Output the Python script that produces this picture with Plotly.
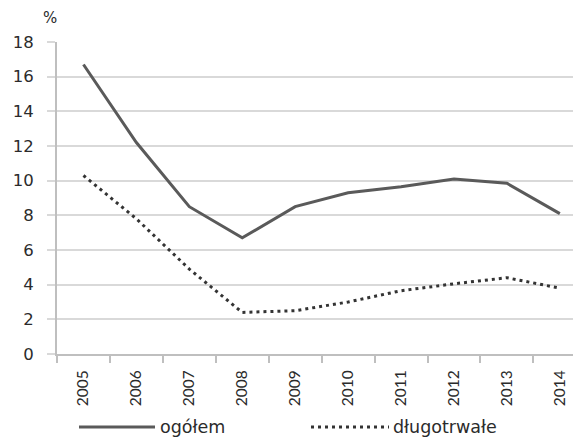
import plotly.graph_objects as go

years = ["2005", "2006", "2007", "2008", "2009", "2010", "2011", "2012", "2013", "2014"]
ogolem = [16.7, 12.2, 8.5, 6.7, 8.5, 9.3, 9.65, 10.1, 9.85, 8.1]
dlugotrwale = [10.3, 7.8, 4.9, 2.4, 2.5, 3.0, 3.65, 4.05, 4.4, 3.8]
y_ticks = [0, 2, 4, 6, 8, 10, 12, 14, 16, 18]

line_color = "#5a5a5a"
text_color = "#2b2b2b"
wide_font = "'DejaVu Sans', Verdana, sans-serif"
narrow_font = "Lato, 'Open Sans', sans-serif"

fig = go.Figure()
fig.add_trace(go.Scatter(x=years, y=ogolem, mode="lines", name="ogółem",
                         line=dict(color=line_color, width=3), showlegend=False))
fig.add_trace(go.Scatter(x=years, y=dlugotrwale, mode="lines", name="długotrwałe",
                         line=dict(color="#333333", width=3, dash="3px,4px"), showlegend=False))

# custom legend (line samples + labels); plot area is 524 px wide, 312 px tall
def px_x(px):
    return (px - 57) / 524.0

def px_y(py):
    return (354 - py) / 312.0

leg_y = px_y(427)
fig.add_shape(type="line", xref="paper", yref="paper", x0=px_x(79), x1=px_x(155), y0=leg_y, y1=leg_y,
              line=dict(color=line_color, width=3))
fig.add_annotation(xref="paper", yref="paper", x=px_x(158), y=leg_y, text="ogółem", showarrow=False,
                   xanchor="left", yanchor="middle", font=dict(size=17.5, color=text_color, family=wide_font))
fig.add_shape(type="line", xref="paper", yref="paper", x0=px_x(311), x1=px_x(389), y0=leg_y, y1=leg_y,
              line=dict(color="#333333", width=3, dash="3px,4px"))
fig.add_annotation(xref="paper", yref="paper", x=px_x(391), y=leg_y, text="długotrwałe", showarrow=False,
                   xanchor="left", yanchor="middle", font=dict(size=17.5, color=text_color, family=wide_font))

fig.add_annotation(xref="paper", yref="paper", x=px_x(50), y=px_y(18), text="%", showarrow=False,
                   xanchor="center", yanchor="middle", font=dict(size=15, color=text_color, family=wide_font))

# the page body has an 8px default margin; compensate so the plot lands where the reference has it
fig.update_layout(
    width=573, height=430,
    margin=dict(l=49, r=0, t=34, b=84, autoexpand=False),
    paper_bgcolor="white", plot_bgcolor="white",
    font=dict(family=wide_font, size=14, color=text_color),
    xaxis=dict(type="category", range=[-0.5, 9.4], tickangle=-90, showgrid=False,
               showline=True, linecolor="#bfbfbf", linewidth=2, ticks="outside",
               tickson="boundaries", ticklen=7, tickcolor="#bfbfbf", tickwidth=1.5,
               ticklabelstandoff=8, automargin=False,
               tickfont=dict(size=15.5, color=text_color, family=narrow_font)),
    yaxis=dict(range=[0, 18], tickvals=y_ticks, showgrid=True, gridcolor="#d9d9d9", gridwidth=1.5,
               showline=True, linecolor="#bfbfbf", linewidth=2, ticks="outside", ticklen=8,
               tickcolor="#d9d9d9", tickwidth=1.5, zeroline=False, automargin=False,
               ticklabelstandoff=10,
               tickfont=dict(size=16.5, color=text_color, family=wide_font)),
)

fig.write_html("out.html")
